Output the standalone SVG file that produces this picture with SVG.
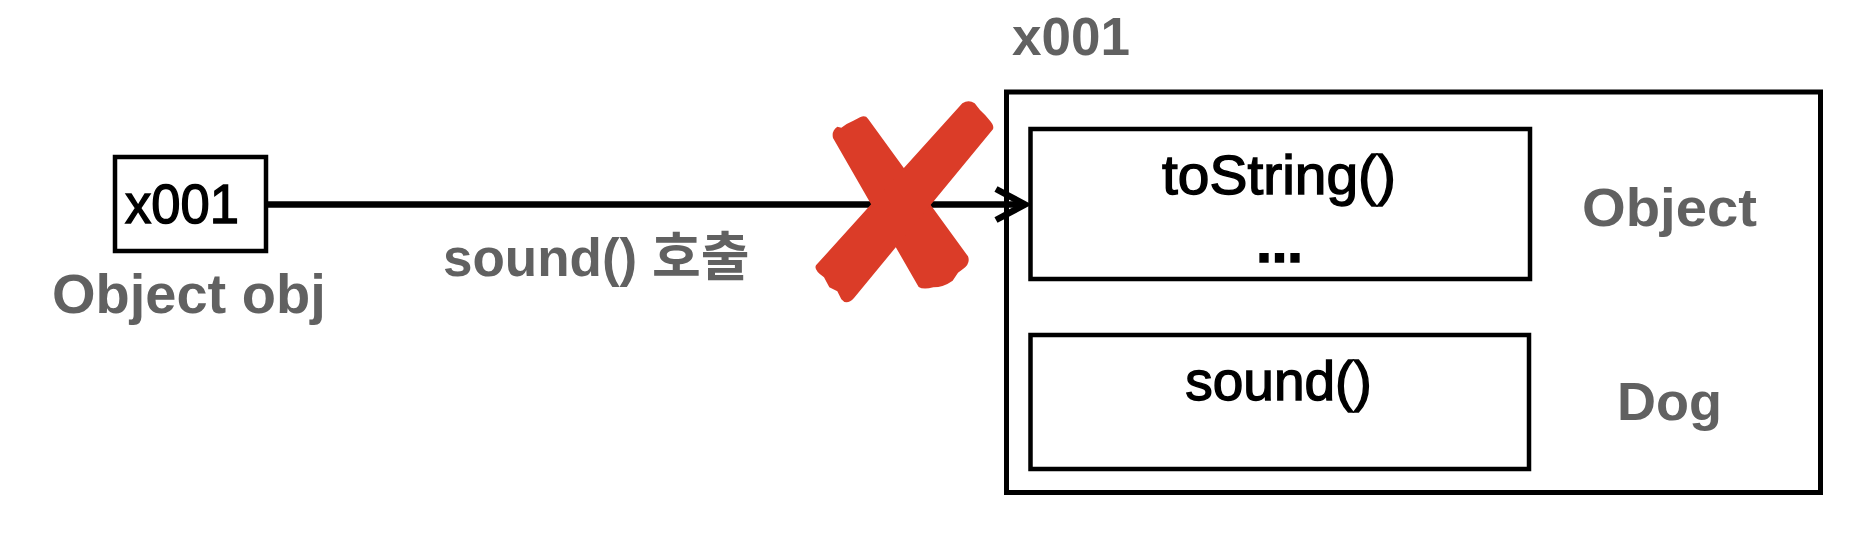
<svg xmlns="http://www.w3.org/2000/svg" width="1874" height="538" viewBox="0 0 1874 538">
  <defs>
    <style>
      .box { fill: #ffffff; stroke: #000000; stroke-width: 4.5; }
      .blk { font-family: "Liberation Sans", Arial, sans-serif; font-size: 55px; fill: #000000; stroke: #000000; stroke-width: 1.4; }
      .gry { font-family: "Liberation Sans", "Noto Sans CJK KR", sans-serif; font-weight: bold; fill: #616161; }
      .conn { stroke: #000000; stroke-width: 6.5; fill: none; }
      .cross { fill: #DB3C28; }
    </style>
    <marker id="chev" markerUnits="userSpaceOnUse" viewBox="-34 -22 44 44" markerWidth="44" markerHeight="44" refX="0" refY="0" orient="auto">
      <path d="M -26 -15.5 L 3 0 L -26 15.5" fill="none" stroke="#000000" stroke-width="6.5" stroke-linejoin="miter"/>
    </marker>
  </defs>
  <rect width="1874" height="538" fill="#ffffff"/>

  <g id="ref-obj">
    <rect class="box" x="115" y="157" width="151" height="94"/>
    <text class="blk" x="125" y="223" textLength="114" lengthAdjust="spacingAndGlyphs">x001</text>
    <text class="gry" x="52" y="313" font-size="56">Object obj</text>
  </g>

  <g id="instance">
    <text class="gry" x="1012" y="55" font-size="53">x001</text>
    <rect class="box" x="1006.5" y="92" width="814" height="400.5" style="stroke-width:5"/>
  </g>

  <g id="object-part">
    <rect class="box" x="1030.5" y="129" width="499.5" height="150"/>
    <text class="blk" x="1279" y="193.5" text-anchor="middle" textLength="234" lengthAdjust="spacingAndGlyphs">toString()</text>
    <text class="blk" x="1279.5" y="262" text-anchor="middle" font-weight="bold" style="font-size:56px">...</text>
    <text class="gry" x="1582" y="226" font-size="54" textLength="175" lengthAdjust="spacingAndGlyphs">Object</text>
  </g>

  <g id="dog-part">
    <rect class="box" x="1030.5" y="335" width="498.5" height="134"/>
    <text class="blk" x="1278.5" y="400" text-anchor="middle">sound()</text>
    <text class="gry" x="1617" y="420" font-size="54">Dog</text>
  </g>

  <g id="connectors">
    <line class="conn" x1="268" y1="204.5" x2="1022" y2="204.5" marker-end="url(#chev)"/>
    <text class="gry" x="443" y="276" font-size="53">sound() 호출</text>
  </g>

  <g id="cross" transform="translate(800,90) scale(0.33333)">
    <path class="cross" d="M 99,144 Q 94,122 112,110 L 124,113 L 140,102 L 160,92 L 180,82 Q 196,74 204,86 L 504,499 Q 512,520 490,536 L 474,548 L 458,572 Q 430,592 400,592 Q 370,600 356,591 Z"/>
    <path class="cross" d="M 487,40 Q 506,28 524,40 L 540,60 L 556,76 L 568,90 Q 586,110 577,120 L 162,624 Q 140,648 124,628 L 112,604 L 88,592 L 72,562 Q 40,540 48,526 Z"/>
  </g>
</svg>
